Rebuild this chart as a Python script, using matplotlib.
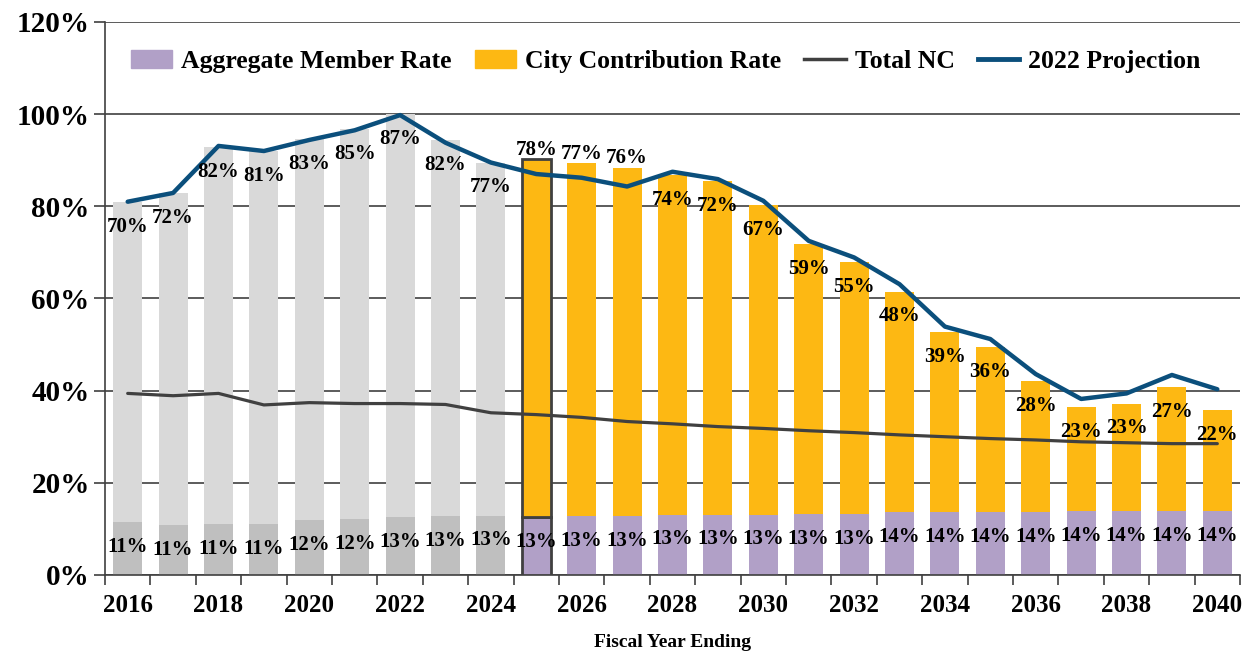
import numpy as np
import matplotlib
matplotlib.use("Agg")
import matplotlib.pyplot as plt
from matplotlib.patches import Patch
from matplotlib.lines import Line2D

plt.rcParams['font.family'] = ['Liberation Serif', 'DejaVu Serif']
plt.rcParams['font.weight'] = 'bold'
plt.rcParams['axes.labelweight'] = 'bold'

years = list(range(2016, 2041))
member_rate = [11.4, 10.9, 11.1, 11.1, 12.0, 12.2, 12.6, 12.8, 12.9, 12.6, 12.8, 12.8, 13.1,
               13.1, 13.1, 13.3, 13.3, 13.6, 13.6, 13.6, 13.6, 13.9, 13.9, 13.9, 13.9]
city_rate = [69.6, 72.0, 81.8, 80.9, 82.6, 84.6, 87.4, 81.6, 76.6, 77.6, 76.6, 75.6, 73.6,
             72.3, 67.2, 58.6, 54.6, 47.9, 39.2, 35.9, 28.4, 22.6, 23.3, 26.9, 21.9]
total_nc = [39.4, 38.9, 39.4, 36.9, 37.4, 37.2, 37.2, 37.0, 35.2, 34.8, 34.2, 33.3, 32.8,
            32.2, 31.8, 31.3, 30.9, 30.4, 30.0, 29.6, 29.3, 28.9, 28.7, 28.5, 28.5]
proj_2022 = [81.0, 82.9, 93.1, 92.0, 94.4, 96.5, 99.8, 93.8, 89.5, 87.0, 86.2, 84.3, 87.5,
             85.9, 81.2, 72.5, 68.9, 63.1, 53.9, 51.2, 43.6, 38.2, 39.4, 43.4, 40.3]
last_actual = 2024
highlight_year = 2025
raised_labels = [2025, 2026, 2027]

PURPLE = '#b1a0c7'
ORANGE = '#fdb813'
GREY_LT = '#d9d9d9'
GREY_DK = '#bfbfbf'
NC_COL = '#404040'
PROJ_COL = '#0b4f7c'

x = np.arange(len(years))
member = np.array(member_rate)
city = np.array(city_rate)
past = np.array([y <= last_actual for y in years])

fig = plt.figure(figsize=(12.47, 6.56), dpi=100)
ax = fig.add_axes([0.0842, 0.1235, 0.9102, 0.843])

w = 0.64
ax.bar(x[past], member[past], w, color=GREY_DK, zorder=2)
ax.bar(x[past], city[past], w, bottom=member[past], color=GREY_LT, zorder=2)
ax.bar(x[~past], member[~past], w, color=PURPLE, zorder=2)
ax.bar(x[~past], city[~past], w, bottom=member[~past], color=ORANGE, zorder=2)

# outlined valuation year
hi = years.index(highlight_year)
ax.bar(x[hi], member[hi], w, color=PURPLE, edgecolor='#404040', linewidth=2, zorder=3)
ax.bar(x[hi], city[hi], w, bottom=member[hi], color=ORANGE, edgecolor='#404040',
       linewidth=2, zorder=3)

ax.plot(x, total_nc, color=NC_COL, lw=2.3, zorder=4, solid_capstyle='round')
ax.plot(x, proj_2022, color=PROJ_COL, lw=3.2, zorder=4, solid_capstyle='round')

# data labels
for i, y in enumerate(years):
    ax.text(x[i], member[i] - 5.4, f"{member[i]:.0f}%", ha='center', va='center',
            fontsize=15, zorder=5)
    top = member[i] + city[i]
    ly = top + 2.0 if y in raised_labels else top - 5.4
    ax.text(x[i], ly, f"{city[i]:.0f}%", ha='center', va='center', fontsize=15, zorder=5)

ax.set_ylim(0, 120)
ax.set_xlim(-0.5, len(years) - 0.5)
ax.set_yticks(range(0, 121, 20))
ax.set_yticklabels([f"{v}%" for v in range(0, 121, 20)], fontsize=21)
ax.yaxis.grid(True, color='#404040', lw=1.2, zorder=1)
ax.tick_params(axis='y', length=8, width=1.2, color='#404040', pad=3)

even = [i for i, y in enumerate(years) if y % 2 == 0]
ax.set_xticks(even)
ax.set_xticklabels([str(years[i]) for i in even], fontsize=18)
ax.set_xticks(np.arange(-0.5, len(years), 1), minor=True)
ax.tick_params(axis='x', which='major', length=0, pad=14)
ax.tick_params(axis='x', which='minor', length=7, width=1.2, color='#404040')
ax.set_xlabel('Fiscal Year Ending', fontsize=14, labelpad=12)

for s in ['top', 'right']:
    ax.spines[s].set_visible(False)
for s in ['left', 'bottom']:
    ax.spines[s].set_color('#404040')
    ax.spines[s].set_linewidth(1.2)

handles = [Patch(color=PURPLE, label='Aggregate Member Rate'),
           Patch(color=ORANGE, label='City Contribution Rate'),
           Line2D([], [], color=NC_COL, lw=2.5, label='Total NC'),
           Line2D([], [], color=PROJ_COL, lw=3.5, label='2022 Projection')]
ax.legend(handles=handles, ncol=4, frameon=False, loc='center',
          bbox_to_anchor=(0.494, 0.928), fontsize=18.5, handlelength=1.6,
          handletextpad=0.35, columnspacing=0.9)

fig.savefig('out.png', dpi=100)
